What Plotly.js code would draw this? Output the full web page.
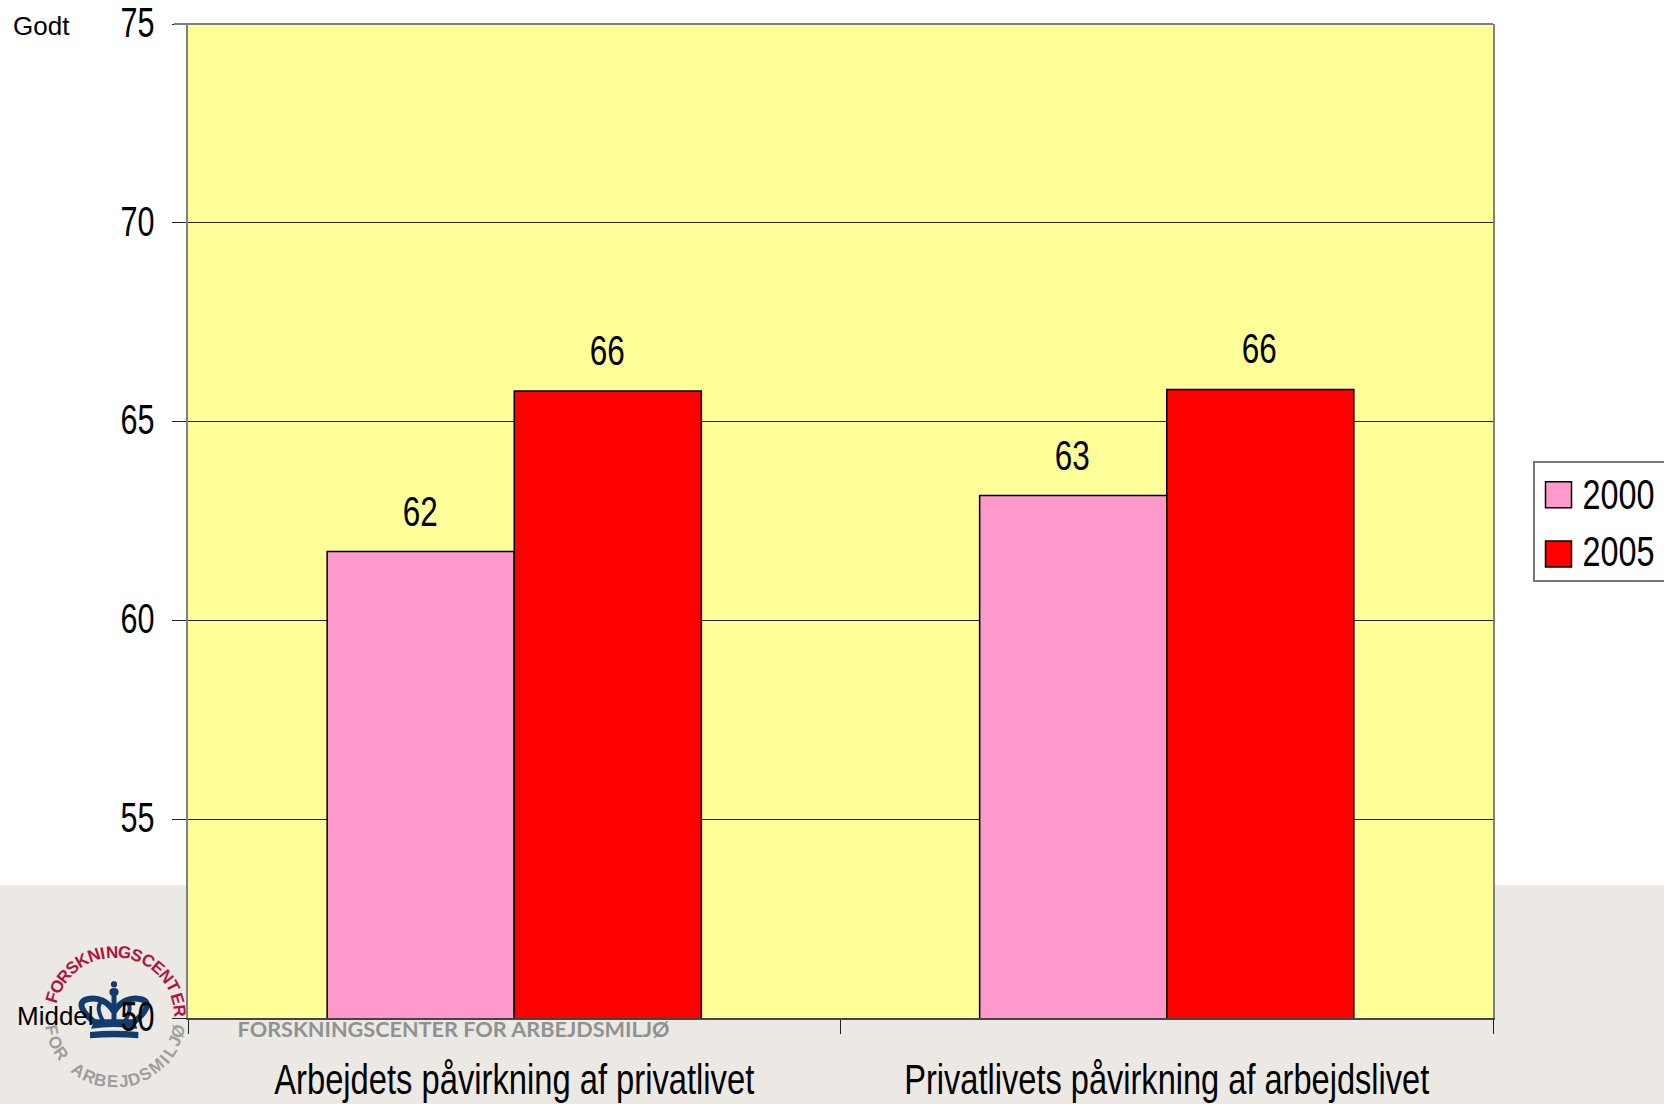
<!DOCTYPE html>
<html>
<head>
<meta charset="utf-8">
<script src="https://cdn.plot.ly/plotly-3.0.1.min.js"></script>
<style>html,body{margin:0;padding:0;background:#fff;overflow:hidden}</style>
</head>
<body>
<div id="chart" style="width:1664px;height:1104px"></div>
<script>
var categories = ["Arbejdets påvirkning af privatlivet", "Privatlivets påvirkning af arbejdslivet"];
var seriesNames = ["2000", "2005"];
var values2000 = [61.73, 63.14];
var values2005 = [65.77, 65.81];
var yTicks = [50, 55, 60, 65, 70, 75];
var colors = ["#FF99CC", "#FF0000"];
var upperArc = "FORSKNINGSCENTER";
var lowerArc = "FOR ARBEJDSMILJØ";
var wordmark = "FORSKNINGSCENTER FOR ARBEJDSMILJØ";

var W = 1664, H = 1104, L = 188, R = 1493, T = 24, B = 1018;
var FONT = '"Liberation Sans",Arial,sans-serif';
var SANS = '"Liberation Sans",Arial,sans-serif';
var BAND = "#ECE9E4";
function px(x) { return (x - L) / (R - L); }
function py(y) { return (B - y) / (B - T); }

// zoom-crop coordinates of the logo -> paper path
function lg(s) {
  return s.replace(/(-?[\d.]+),(-?[\d.]+)/g, function (m, a, b) {
    return px(30 + a / 3).toFixed(5) + "," + py(930 + b / 3).toFixed(5);
  });
}
function rect(x0, y0, x1, y1, c) {
  return {type: "rect", xref: "paper", yref: "paper", layer: "below", x0: px(x0), x1: px(x1), y0: py(y0), y1: py(y1), fillcolor: c, line: {width: 0}};
}
var NAVY = "#123C6E";
function crownFill(d) {
  return {type: "path", xref: "paper", yref: "paper", layer: "below", path: lg(d), fillcolor: NAVY, line: {width: 0}};
}
function crownLine(d, w) {
  return {type: "path", xref: "paper", yref: "paper", layer: "below", path: lg(d), line: {color: NAVY, width: w}};
}

var shapes = [
  rect(0, 885, L, H, BAND),
  rect(R, 885, W, H, BAND),
  rect(L, B, R, H, BAND),
  crownFill("M180,306 Q252,298 325,306 L325,325 Q252,318 180,325 Z"),
  crownFill("M183,296 L195,268 L312,268 L322,296 Q252,286 183,296 Z"),
  crownLine("M195,278 C160,250 135,215 175,207 C205,200 235,215 252,245", 6),
  crownLine("M310,278 C345,250 370,215 330,207 C300,200 270,215 252,245", 6),
  crownLine("M222,278 C205,250 200,225 215,215", 4),
  crownLine("M282,278 C300,250 305,225 290,215", 4),
  crownLine("M252,280 L252,195", 5),
  crownFill("M238,186 Q238,174 252,174 Q266,174 266,186 Q266,198 252,198 Q238,198 238,186 Z"),
  crownLine("M252,172 L252,154", 4),
  crownLine("M243,163 L261,163", 4),
  {type: "line", xref: "paper", yref: "paper", layer: "above", x0: px(174), x1: 1, y0: 1, y1: 1, line: {color: "#808080", width: 2}}
];

var annotations = [];
function note(text, x, y, size, color, family, extra) {
  var a = {text: text, xref: "paper", yref: "paper", x: px(x), y: py(y), showarrow: false, xanchor: "left", yanchor: "middle", font: {size: size, color: color, family: family}};
  for (var k in extra) a[k] = extra[k];
  annotations.push(a);
}
// logo lettering: letters spread along the arcs by their rough width
var CX = 115, CY = 1017, RAD = 65;
function letterWidth(ch) { return ch === "I" ? 0.55 : ch === "J" ? 0.75 : ch === "M" ? 1.25 : 1; }
function arcAngles(str, start, sweep) {
  var w = str.split("").map(letterWidth), total = 0, out = [], acc = 0;
  w.forEach(function (v) { total += v; });
  total -= (w[0] + w[w.length - 1]) / 2;
  w.forEach(function (v, i) {
    if (i > 0) acc += (w[i - 1] + v) / 2;
    out.push(start + sweep * acc / total);
  });
  return out;
}
var upperAngles = arcAngles(upperArc, -73, 157);
upperArc.split("").forEach(function (ch, i) {
  var ang = upperAngles[i], r = ang * Math.PI / 180;
  note("<b>" + ch + "</b>", CX + RAD * Math.sin(r), CY - RAD * Math.cos(r), 17, "#B0143F", SANS, {xanchor: "center", textangle: ang});
});
var lowerAngles = arcAngles(lowerArc, 78, -155);
lowerArc.split("").forEach(function (ch, i) {
  if (ch === " ") return;
  var ang = lowerAngles[i], r = ang * Math.PI / 180;
  note("<b>" + ch + "</b>", CX - RAD * Math.sin(r), CY + RAD * Math.cos(r), 17, "#9C9EA0", SANS, {xanchor: "center", textangle: ang});
});
note("<b>" + wordmark + "</b>", 453, 1029, 20, "#8F9291", '"Lato","Open Sans",sans-serif', {xanchor: "center"});
note("Godt", 11, 26, 26, "#000", SANS);
note("Middel", 15, 1016, 26, "#000", SANS);

// data labels above the bars
[values2000, values2005].forEach(function (vals, s) {
  vals.forEach(function (v, i) {
    annotations.push({x: categories[i], y: v, xref: "x", yref: "y", text: String(Math.round(v)), showarrow: false,
      xanchor: "center", yanchor: "bottom", xshift: s === 0 ? -94 : 93, yshift: 15,
      font: {size: 42, color: "#000", family: FONT}});
  });
});

var barLine = {color: "#000", width: 1.5};
var data = [
  {type: "bar", name: seriesNames[0], legendgroup: "a", x: categories, y: values2000, marker: {color: colors[0], line: barLine}, hoverinfo: "x+y"},
  {type: "bar", name: seriesNames[1], legendgroup: "b", x: categories, y: values2005, marker: {color: colors[1], line: barLine}, hoverinfo: "x+y"}
];

var layout = {
  width: W, height: H,
  margin: {l: L, r: W - R, t: T, b: H - B, pad: 0, autoexpand: false},
  paper_bgcolor: "#fff",
  plot_bgcolor: "#FFFF99",
  barmode: "group",
  bargap: 0.4265,
  bargroupgap: 0,
  font: {family: FONT, color: "#000"},
  xaxis: {type: "category", tickson: "boundaries", ticks: "outside", ticklen: 14, tickwidth: 1, tickcolor: "#222", tickangle: 0,
    showline: true, linecolor: "#444", linewidth: 2, showgrid: false, zeroline: false,
    tickfont: {size: 42, family: FONT, color: "#000"}, ticklabelstandoff: 24},
  yaxis: {range: [50, 75], tickmode: "array", tickvals: yTicks, ticktext: yTicks.map(String),
    ticks: "outside", ticklen: 14, tickwidth: 1, tickcolor: "#222",
    showline: true, mirror: true, linecolor: "#808080", linewidth: 2,
    showgrid: true, gridcolor: "#222", gridwidth: 1, zeroline: false,
    tickfont: {size: 42, family: FONT, color: "#000"}, ticklabelstandoff: 9},
  legend: {x: px(1533), y: py(461), xanchor: "left", yanchor: "top", bgcolor: "#fff", bordercolor: "#777", borderwidth: 1.5,
    font: {size: 42, family: FONT, color: "#000"}, itemwidth: 38, entrywidth: 78, entrywidthmode: "pixels",
    tracegroupgap: 5, traceorder: "normal", itemclick: false, itemdoubleclick: false},
  showlegend: true,
  shapes: shapes,
  annotations: annotations
};

// the reference uses a condensed face: squeeze the real text horizontally
function squeeze(sel, widthFor) {
  document.querySelectorAll(sel).forEach(function (t) {
    var w = widthFor(t.textContent);
    if (w) { t.setAttribute("textLength", w); t.setAttribute("lengthAdjust", "spacingAndGlyphs"); }
  });
}
function nudgeY(sel, dy) {
  document.querySelectorAll(sel).forEach(function (t) {
    t.setAttribute("y", parseFloat(t.getAttribute("y") || 0) + dy);
  });
}
function finish() {
  var swatches = document.querySelectorAll(".legend .legendpoints path");
  swatches.forEach(function (p, i) {
    p.setAttribute("d", i === 0 ? "M13,11.5H-13V-14.5H13Z" : "M13,13H-13V-13H13Z");
  });
  document.querySelectorAll(".legend rect.bg").forEach(function (r) { r.setAttribute("height", 119); });
  squeeze(".ytick text", function () { return 34; });
  squeeze(".xtick text", function (s) { return s === categories[0] ? 480 : 525; });
  squeeze(".legend text.legendtext", function () { return 72; });
  squeeze(".annotation-text", function (s) { return /^\d\d$/.test(s) ? 35 : (s === wordmark ? 432 : 0); });
  nudgeY(".ytick text", -2);
  nudgeY(".legend text.legendtext", -4);
}
Plotly.newPlot("chart", data, layout, {displayModeBar: false, responsive: false}).then(finish);
</script>
</body>
</html>
